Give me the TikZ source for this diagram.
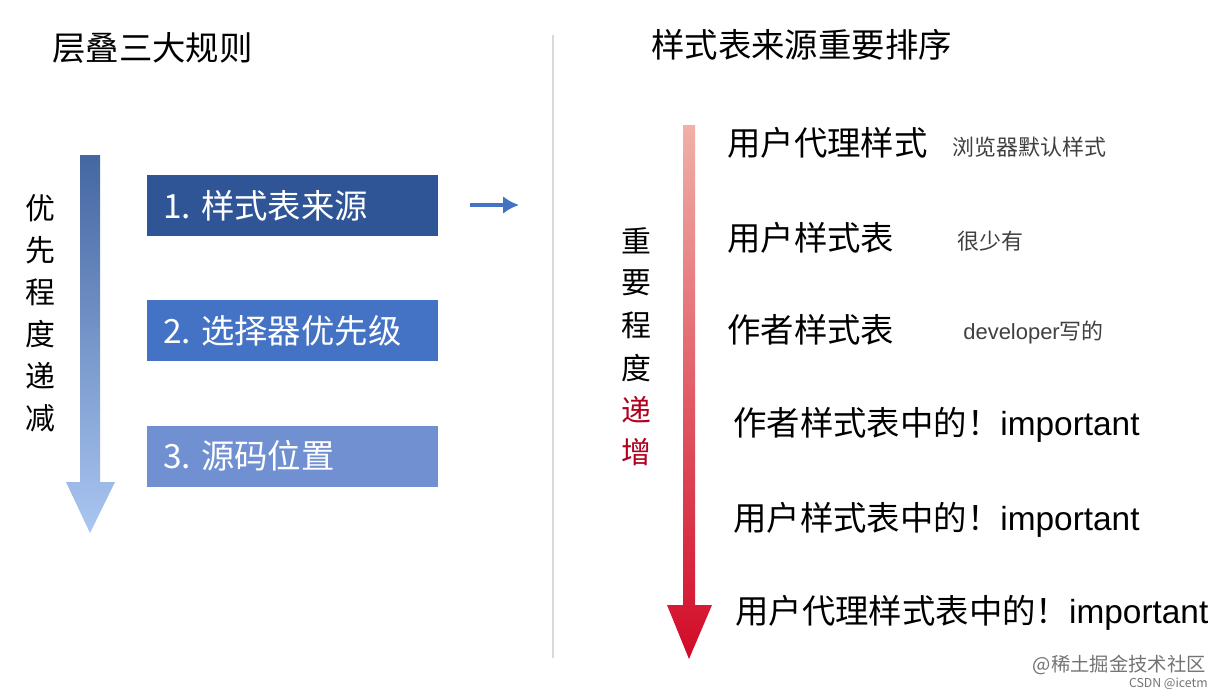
\documentclass[tikz,border=0pt]{standalone}
\usepackage{fontspec}
\usetikzlibrary{arrows.meta}
\setmainfont{Noto Sans CJK SC}
\newfontfamily\lat{Liberation Sans}
\definecolor{boxA}{HTML}{2F5597}
\definecolor{boxB}{HTML}{4472C4}
\definecolor{boxC}{HTML}{7090D2}
\definecolor{darkred}{HTML}{B0001E}
\begin{document}
\begin{tikzpicture}[x=0.02cm,y=-0.02cm,
  big/.style={font=\fontsize{19}{22}\selectfont,anchor=west,inner sep=0pt},
  small/.style={font=\fontsize{12.5}{14}\selectfont,anchor=west,inner sep=0pt,text=black!75},
  rbox/.style={fill=#1,minimum width=291*0.02cm,minimum height=61*0.02cm,inner sep=0pt},
  vt/.style={font=\fontsize{17}{20}\selectfont,inner sep=0pt}]
\useasboundingbox (0,0) rectangle (1226,697);
% titles
\node[big] (t1) at (52,48) {层叠三大规则};
\node[big] (t2) at (651,45) {样式表来源重要排序};
\draw[black!15,line width=1pt] (553,35) -- (553,658);
% left arrow
\shade[top color=boxA!90,bottom color={rgb,255:red,170;green,198;blue,242}]
  (80,155) -- (100,155) -- (100,482) -- (115,482) -- (90,533) -- (66,482) -- (80,482) -- cycle;
\foreach \c [count=\i] in {优,先,程,度,递,减}
  \node[vt] (l\i) at (40,166+\i*42) {\c};
% boxes
\node[rbox=boxA] (b1) at (292.5,205.5) {};
\node[rbox=boxB] (b2) at (292.5,330.5) {};
\node[rbox=boxC] (b3) at (292.5,456) {};
\node[big,text=white] at (163,206) {1. 样式表来源};
\node[big,text=white] at (163,331) {2. 选择器优先级};
\node[big,text=white] at (163,456) {3. 源码位置};
\coordinate (s1) at (470,205); \coordinate (s2) at (519,205);
\draw[-{Latex[length=9pt,width=10pt]},boxB,line width=2pt] (s1) -- (s2);
% red arrow
\shade[top color={rgb,255:red,240;green,176;blue,168},bottom color={rgb,255:red,210;green,10;blue,40}]
  (683,125) -- (695,125) -- (695,605) -- (712,605) -- (689,659) -- (667,605) -- (683,605) -- cycle;
\foreach \c [count=\i] in {重,要,程,度}
  \node[vt] (r\i) at (636,198+\i*42.5) {\c};
\node[vt,text=darkred] (r5) at (636,410) {递};
\node[vt,text=darkred] (r6) at (636,452) {增};
% items
\node[big] (i1) at (727,143) {用户代理样式};
\node[small] (n1) at (952,147) {浏览器默认样式};
\node[big] (i2) at (727,238) {用户样式表};
\node[small] (n2) at (957,241) {很少有};
\node[big] (i3) at (727,330) {作者样式表};
\node[small] (n3) at (963,333) {{\lat developer}写的};
\node[big] (i4) at (733,425) {作者样式表中的！{\lat important}};
\node[big] (i5) at (733,520) {用户样式表中的！{\lat important}};
\node[big] (i6) at (735,613) {用户代理样式表中的！{\lat important}};
% footer
\node[font=\fontsize{11}{13}\selectfont,text=black!55,anchor=east,inner sep=0pt] (f1) at (1206,665) {@稀土掘金技术社区};
\node[font=\fontsize{7}{9}\selectfont,text=black!55,anchor=east,inner sep=0pt] (f2) at (1208,684) {CSDN @icetm};
\end{tikzpicture}
\end{document}
